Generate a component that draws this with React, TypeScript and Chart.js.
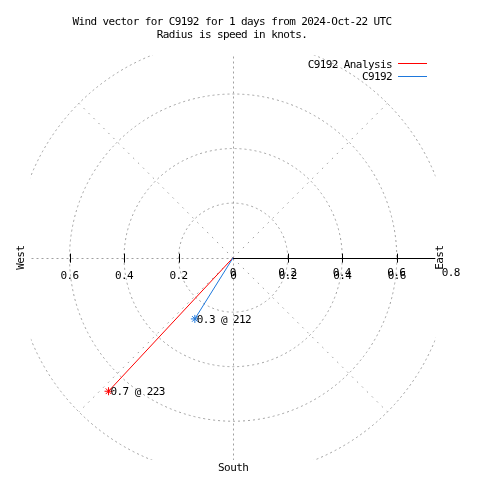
import React, { useEffect, useRef } from "react";
import { Chart, registerables } from "chart.js";

Chart.register(...registerables);

// ---- data ----
const titleLines = [
  "Wind vector for C9192 for 1 days from 2024-Oct-22 UTC",
  "Radius is speed in knots.",
];
const seriesLabels = ["C9192 Analysis", "C9192"];
const seriesSpeeds = [0.67, 0.265]; // knots
const seriesDirections = [223, 212]; // degrees
const seriesPointLabels = ["0.7 @ 223", "0.3 @ 212"];
const seriesColors = ["#ff0000", "#1e78dc"];

const ringRadii = [0.2, 0.4, 0.6, 0.8];
const spokeAngles = [0, 45, 90, 135, 180, 225, 270, 315];
const spokeLength = 0.8;
const plotLimit = 0.742;
const radialTickValues = [0, 0.2, 0.4, 0.6, 0.8];
const axisTickValues = [-0.6, -0.4, -0.2, 0, 0.2, 0.4, 0.6];
const compassLabels = ["West", "East", "South"];
const compassDirections = [270, 90, 180];
const compassRadii = [0.783, 0.756, 0.767];

const FONT = '11px "DejaVu Sans Mono", monospace';
const GRID = "#a0a0a0";

function polar(speed: number, dir: number) {
  const r = (dir * Math.PI) / 180;
  return { x: speed * Math.sin(r), y: speed * Math.cos(r) };
}

// x, y = visual centre of capitals/digits
function drawText(
  ctx: CanvasRenderingContext2D,
  text: string,
  x: number,
  y: number,
  align: CanvasTextAlign,
  rot = 0
) {
  ctx.save();
  ctx.translate(x, y);
  if (rot) ctx.rotate(rot);
  ctx.font = FONT;
  ctx.textAlign = align;
  ctx.textBaseline = "alphabetic";
  (ctx as any).letterSpacing = "-0.6px";
  ctx.fillStyle = "#000";
  ctx.fillText(text, 0, 4);
  ctx.restore();
}

const polarGrid = {
  id: "polarGrid",
  beforeDatasetsDraw(chart: any) {
    const ctx: CanvasRenderingContext2D = chart.ctx;
    const xs = chart.scales.x;
    const ys = chart.scales.y;
    const cx = xs.getPixelForValue(0);
    const cy = ys.getPixelForValue(0);
    const unit = xs.getPixelForValue(1) - cx;

    ctx.save();
    ctx.beginPath();
    const l = xs.getPixelForValue(-plotLimit);
    const r = xs.getPixelForValue(plotLimit);
    const t = ys.getPixelForValue(plotLimit);
    const b = ys.getPixelForValue(-plotLimit);
    ctx.rect(l, t, r - l, b - t);
    ctx.clip();
    ctx.strokeStyle = GRID;
    ctx.lineWidth = 1;
    ctx.setLineDash([2, 3]);
    for (const rr of ringRadii) {
      ctx.beginPath();
      ctx.arc(cx, cy, rr * unit, 0, Math.PI * 2);
      ctx.stroke();
    }
    for (const a of spokeAngles) {
      const p = polar(spokeLength, a);
      const diag = a % 90 !== 0;
      ctx.setLineDash(diag ? [1.6, 5.4] : [2, 3]);
      const off = diag ? 0 : 0.5;
      ctx.beginPath();
      ctx.moveTo(Math.round(cx) + off, Math.round(cy) + off);
      ctx.lineTo(
        (diag ? xs.getPixelForValue(p.x) : Math.round(xs.getPixelForValue(p.x))) + off,
        (diag ? ys.getPixelForValue(p.y) : Math.round(ys.getPixelForValue(p.y))) + off
      );
      ctx.stroke();
    }
    ctx.setLineDash([]);
    // solid axis to the east
    ctx.strokeStyle = "#000";
    ctx.beginPath();
    ctx.moveTo(Math.round(cx), Math.round(cy) + 0.5);
    ctx.lineTo(r, Math.round(cy) + 0.5);
    ctx.stroke();
    // tick marks
    for (const v of axisTickValues) {
      if (v === 0) continue;
      const px = Math.round(xs.getPixelForValue(v)) + 0.5;
      ctx.beginPath();
      ctx.moveTo(px, cy - 4);
      ctx.lineTo(px, cy + 5);
      ctx.stroke();
    }
    ctx.restore();

    // tick labels (x axis, absolute values) and radial labels (overlapping)
    for (const v of axisTickValues) {
      const s = v === 0 ? "0" : Math.abs(v).toFixed(1);
      drawText(ctx, s, xs.getPixelForValue(v), cy + 17.5, "center");
    }
    for (const v of radialTickValues) {
      const s = v === 0 ? "0" : v.toFixed(1);
      drawText(ctx, s, xs.getPixelForValue(v) - 0.5, cy + 14, "center");
    }
    // compass labels
    compassLabels.forEach((txt, i) => {
      const p = polar(compassRadii[i], compassDirections[i]);
      const px = xs.getPixelForValue(p.x);
      const py = ys.getPixelForValue(p.y);
      const rot = compassDirections[i] === 180 ? 0 : -Math.PI / 2;
      drawText(ctx, txt, px, py + (rot ? 0 : 0), "center", rot);
    });
  },
  afterDatasetsDraw(chart: any) {
    const ctx: CanvasRenderingContext2D = chart.ctx;
    const xs = chart.scales.x;
    const ys = chart.scales.y;
    // point labels
    seriesLabels.forEach((_, i) => {
      const p = polar(seriesSpeeds[i], seriesDirections[i]);
      drawText(
        ctx,
        seriesPointLabels[i],
        xs.getPixelForValue(p.x) + 2,
        ys.getPixelForValue(p.y),
        "left"
      );
    });
    // title
    titleLines.forEach((line, i) => {
      drawText(ctx, line, 232, 20.5 + i * 13, "center");
    });
    // legend
    seriesLabels.forEach((lab, i) => {
      const y = 64 + i * 12.3;
      drawText(ctx, lab, 392, y, "right");
      ctx.save();
      ctx.strokeStyle = seriesColors[i];
      ctx.lineWidth = 1;
      ctx.beginPath();
      ctx.moveTo(398, Math.round(y - 0.8) + 0.5);
      ctx.lineTo(427, Math.round(y - 0.8) + 0.5);
      ctx.stroke();
      ctx.restore();
    });
  },
};

const UNIT_PX = 278.5;
const CENTER_X = 233;
const CENTER_Y = 258;

export default function App() {
  const ref = useRef<HTMLCanvasElement | null>(null);
  useEffect(() => {
    if (!ref.current) return;
    const datasets = seriesLabels.map((lab, i) => {
      const p = polar(seriesSpeeds[i], seriesDirections[i]);
      return {
        label: lab,
        data: [
          { x: 0, y: 0 },
          { x: p.x, y: p.y },
        ],
        showLine: true,
        borderColor: seriesColors[i],
        backgroundColor: seriesColors[i],
        borderWidth: 1,
        pointStyle: "star" as const,
        pointRadius: [0, 4],
        pointBorderColor: seriesColors[i],
        pointBorderWidth: 1,
        order: seriesLabels.length - i,
      };
    });
    const chart = new Chart(ref.current, {
      type: "scatter",
      data: { datasets },
      options: {
        animation: false,
        responsive: false,
        devicePixelRatio: 1,
        layout: { padding: 0 },
        plugins: {
          legend: { display: false },
          title: { display: false },
          tooltip: { enabled: false },
        },
        events: [],
        scales: {
          x: {
            type: "linear",
            display: false,
            min: -CENTER_X / UNIT_PX,
            max: (480 - CENTER_X) / UNIT_PX,
          },
          y: {
            type: "linear",
            display: false,
            min: -(480 - CENTER_Y) / UNIT_PX,
            max: CENTER_Y / UNIT_PX,
          },
        },
      },
      plugins: [polarGrid],
    });
    return () => chart.destroy();
  }, []);
  return (
    <div style={{ position: "fixed", left: 0, top: 0, width: 480, height: 480, background: "#fff" }}>
      <canvas ref={ref} width={480} height={480} style={{ display: "block" }} />
    </div>
  );
}
